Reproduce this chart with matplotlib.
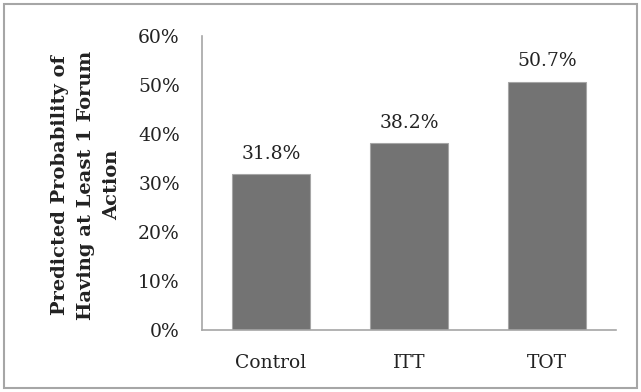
import matplotlib
matplotlib.use("Agg")
import matplotlib.pyplot as plt
from matplotlib.patches import Rectangle
from matplotlib.ticker import FuncFormatter

categories = ["Control", "ITT", "TOT"]
values = [31.8, 38.2, 50.7]
yticks = [0, 10, 20, 30, 40, 50, 60]

plt.rcParams["font.family"] = ["DejaVu Serif"]

fig = plt.figure(figsize=(6.41, 3.92), dpi=100)
fig.patches.append(Rectangle((4 / 641, 4 / 392), 633 / 641, 384 / 392,
                             transform=fig.transFigure, fill=False,
                             edgecolor="#a6a6a6", linewidth=1.5))

ax = fig.add_axes([202 / 641, 62 / 392, 414 / 641, 294 / 392])
x = range(len(categories))
ax.bar(x, values, width=0.57, color="#737373", edgecolor="#a6a6a6", linewidth=0.8)
for xi, v in zip(x, values):
    ax.text(xi, v + 2.3, f"{v:.1f}%", ha="center", va="bottom", fontsize=13.5, color="#222222")

ax.set_xlim(-0.5, 2.5)
ax.set_ylim(0, 60)
ax.set_yticks(yticks)
ax.yaxis.set_major_formatter(FuncFormatter(lambda v, p: f"{v:.0f}%"))
ax.set_xticks(list(x))
ax.set_xticklabels(categories)
ax.tick_params(axis="both", length=0, labelsize=13.5, colors="#222222")
ax.tick_params(axis="y", pad=16)
ax.tick_params(axis="x", pad=17)
for s in ["top", "right"]:
    ax.spines[s].set_visible(False)
for s in ["left", "bottom"]:
    ax.spines[s].set_color("#a6a6a6")
    ax.spines[s].set_linewidth(1.2)

fig.text(86 / 641, 1 - 185 / 392,
         "Predicted Probability of\nHaving at Least 1 Forum\nAction",
         rotation=90, ha="center", va="center", fontsize=14,
         fontweight="bold", linespacing=1.6, color="#222222")

fig.savefig("out.png", dpi=100)
